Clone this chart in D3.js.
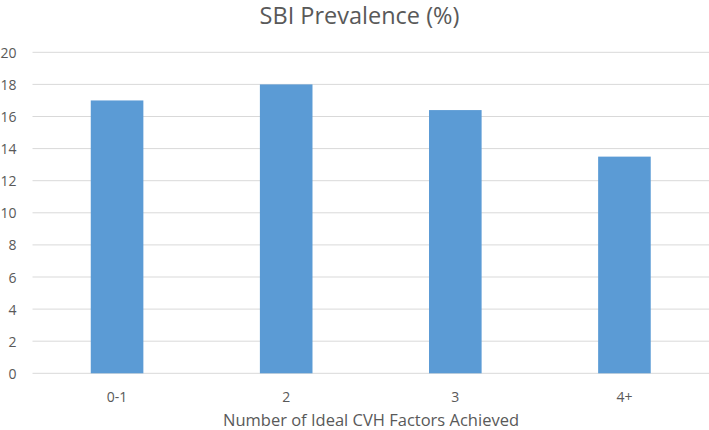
<!DOCTYPE html>
<html><head><meta charset="utf-8">
<script src="https://cdn.jsdelivr.net/npm/d3@7"></script>
<style>body{margin:0;background:#fff}</style>
</head><body>
<svg id="c" width="709" height="430"></svg>
<script>
const categories = ["0-1", "2", "3", "4+"];
const values = [17, 18, 16.4, 13.5];
const yTicks = [0, 2, 4, 6, 8, 10, 12, 14, 16, 18, 20];
const title = "SBI Prevalence (%)";
const xTitle = "Number of Ideal CVH Factors Achieved";

(function () {
const svg = d3.select("#c");
const font = "'Open Sans', 'Noto Sans', sans-serif";
const mLeft = 32.5, mRight = 709, mTop = 52.3, mBottom = 373.3;

const x = d3.scaleBand().domain(categories).range([mLeft, mRight]).paddingInner(0.689).paddingOuter(0.3445);
const y = d3.scaleLinear().domain([0, 20]).range([mBottom, mTop]);

svg.append("g").selectAll("line").data(yTicks).join("line")
  .attr("x1", mLeft).attr("x2", mRight)
  .attr("y1", d => y(d)).attr("y2", d => y(d))
  .attr("stroke", "#d9d9d9").attr("stroke-width", 1);

svg.append("g").selectAll("rect").data(values).join("rect")
  .attr("x", (d, i) => x(categories[i]))
  .attr("width", x.bandwidth())
  .attr("y", d => y(d))
  .attr("height", d => y(0) - y(d))
  .attr("fill", "#5b9bd5");

const yAxis = d3.axisLeft(y).tickValues(yTicks).tickSize(0).tickPadding(0);
const gy = svg.append("g").attr("transform", "translate(16.5,0)").call(yAxis);
gy.select(".domain").remove();
gy.selectAll("text").attr("fill", "#595959").attr("dy", "0.36em")
  .style("font-family", font).style("font-size", "14px");

const xAxis = d3.axisBottom(x).tickSize(0).tickPadding(0);
const gx = svg.append("g").attr("transform", "translate(0,0)").call(xAxis);
gx.select(".domain").remove();
gx.selectAll("text").attr("fill", "#595959").attr("y", 401.7).attr("dy", null)
  .style("font-family", font).style("font-size", "14px");

svg.append("text").attr("x", 359.5).attr("y", 23.5).attr("text-anchor", "middle")
  .attr("fill", "#595959").style("font-family", font).style("font-size", "23.5px").text(title);

svg.append("text").attr("x", 371).attr("y", 426).attr("text-anchor", "middle")
  .attr("fill", "#595959").style("font-family", font).style("font-size", "16.5px").text(xTitle);
})();
</script>
</body></html>
